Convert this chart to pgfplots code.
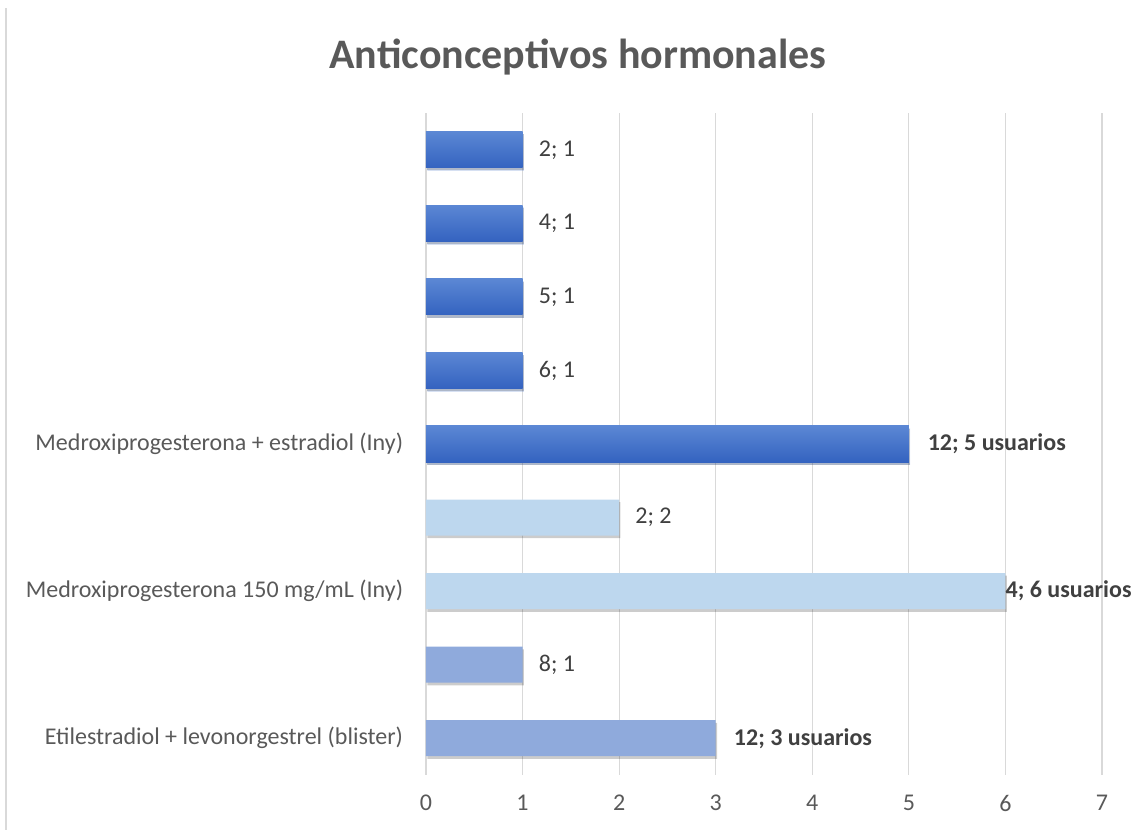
\documentclass[border=0pt]{standalone}
\usepackage{pgfplots}
\pgfplotsset{compat=1.18}
\usepackage{fontspec}
\setmainfont{Carlito}
\definecolor{gridc}{HTML}{D9D9D9}
\definecolor{titlec}{HTML}{595959}
\definecolor{tickc}{HTML}{595959}
\definecolor{labc}{HTML}{404040}
\definecolor{darkTop}{HTML}{5B87D4}
\definecolor{darkBot}{HTML}{3463C0}
\definecolor{lightb}{HTML}{BDD7EE}
\definecolor{midb}{HTML}{8FAADC}
\begin{document}
\begin{tikzpicture}[x=0.75pt,y=0.75pt]
\path[use as bounding box] (0,0) rectangle (1136,830);
\draw[gridc, line width=1.2pt] (6,0) -- (6,822);
\node[font=\bfseries\fontsize{31.5}{36}\selectfont, text=titlec] at (578,773) {Anticonceptivos hormonales};
\begin{axis}[
  at={(319.5pt,41.25pt)}, anchor=south west,
  scale only axis, width=507pt, height=496.5pt,
  xmin=0, xmax=7, ymin=-0.5, ymax=8.5,
  axis line style={draw=none},
  xmajorgrids, grid style={gridc, line width=0.9pt},
  xtick={0,...,7},
  ytick={0,...,8},
  yticklabels={Etilestradiol + levonorgestrel (blister),,Medroxiprogesterona 150 mg/mL (Iny),,Medroxiprogesterona + estradiol (Iny),,,,},
  major tick length=0pt,
  tick label style={text=tickc, font=\fontsize{18}{20}\selectfont},
  /pgf/number format/assume math mode=true,
  yticklabel style={inner sep=0pt, xshift=-17pt},
  xticklabel style={inner sep=0pt, yshift=-15pt},
  clip=false,
  shadowed/.style={preaction={fill=black, fill opacity=0.2, transform canvas={xshift=1pt,yshift=-2pt}}},
  darkbar/.style={xbar, bar width=0.49, bar shift=0pt, draw=none, top color=darkTop, bottom color=darkBot, shadowed},
]
\addplot[xbar, bar width=0.49, bar shift=0pt, draw=none, fill=midb, shadowed]
  coordinates {(3,0) (1,1)};
\addplot[xbar, bar width=0.49, bar shift=0pt, draw=none, fill=lightb, shadowed]
  coordinates {(6,2) (2,3)};
\addplot[darkbar] coordinates {(5,4)};
\addplot[darkbar] coordinates {(1,5)};
\addplot[darkbar] coordinates {(1,6)};
\addplot[darkbar] coordinates {(1,7)};
\addplot[darkbar] coordinates {(1,8)};
\begin{scope}[every node/.style={anchor=west, text=labc, font=\fontsize{18}{20}\selectfont, inner sep=0pt}]
\node[xshift=13.5pt] at (axis cs:3,0) {\bfseries 12; 3 usuarios};
\node[xshift=12pt] at (axis cs:1,1) {8; 1};
\node[xshift=0pt] at (axis cs:6,2) {\bfseries 4; 6 usuarios};
\node[xshift=12pt] at (axis cs:2,3) {2; 2};
\node[xshift=14pt] at (axis cs:5,4) {\bfseries 12; 5 usuarios};
\node[xshift=12pt] at (axis cs:1,5) {6; 1};
\node[xshift=12pt] at (axis cs:1,6) {5; 1};
\node[xshift=12pt] at (axis cs:1,7) {4; 1};
\node[xshift=12pt] at (axis cs:1,8) {2; 1};
\end{scope}
\end{axis}
\end{tikzpicture}
\end{document}
